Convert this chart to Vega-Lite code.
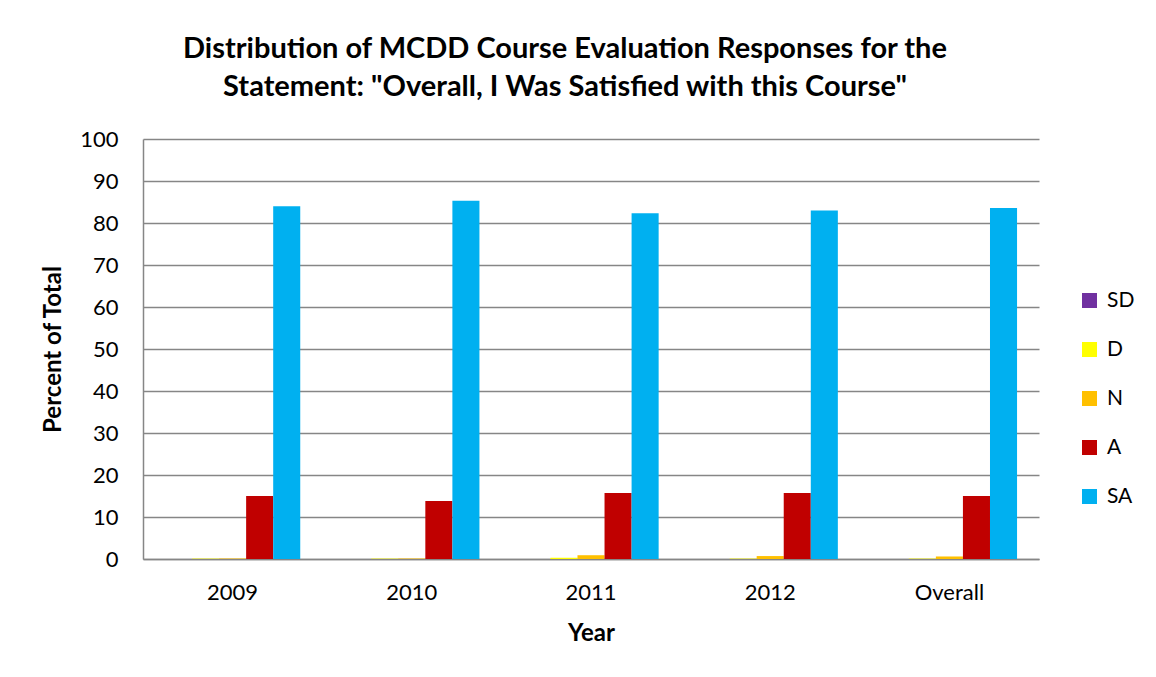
{
  "$schema": "https://vega.github.io/schema/vega-lite/v6.json",
  "autosize": "none",
  "width": 896,
  "height": 420,
  "padding": {"left": 143, "top": 139, "right": 117, "bottom": 118},
  "background": "white",
  "title": {
    "text": ["Distribution of MCDD Course Evaluation Responses for the", "Statement: \"Overall, I Was Satisfied with this Course\""],
    "font": "Lato",
    "fontSize": 29,
    "fontWeight": "bold",
    "color": "#000000",
    "lineHeight": 38,
    "anchor": "middle",
    "dx": -26,
    "offset": 26
  },
  "data": {
    "values": [
      {"year": "2009", "resp": "SD", "pct": 0},
      {"year": "2009", "resp": "D", "pct": 0.1},
      {"year": "2009", "resp": "N", "pct": 0.1},
      {"year": "2009", "resp": "A", "pct": 15.0},
      {"year": "2009", "resp": "SA", "pct": 84.0},
      {"year": "2010", "resp": "SD", "pct": 0},
      {"year": "2010", "resp": "D", "pct": 0.1},
      {"year": "2010", "resp": "N", "pct": 0.1},
      {"year": "2010", "resp": "A", "pct": 13.8},
      {"year": "2010", "resp": "SA", "pct": 85.3},
      {"year": "2011", "resp": "SD", "pct": 0},
      {"year": "2011", "resp": "D", "pct": 0.3},
      {"year": "2011", "resp": "N", "pct": 0.9},
      {"year": "2011", "resp": "A", "pct": 15.7},
      {"year": "2011", "resp": "SA", "pct": 82.3},
      {"year": "2012", "resp": "SD", "pct": 0},
      {"year": "2012", "resp": "D", "pct": 0.1},
      {"year": "2012", "resp": "N", "pct": 0.7},
      {"year": "2012", "resp": "A", "pct": 15.7},
      {"year": "2012", "resp": "SA", "pct": 83.0},
      {"year": "Overall", "resp": "SD", "pct": 0},
      {"year": "Overall", "resp": "D", "pct": 0.1},
      {"year": "Overall", "resp": "N", "pct": 0.6},
      {"year": "Overall", "resp": "A", "pct": 15.0},
      {"year": "Overall", "resp": "SA", "pct": 83.6}
    ]
  },
  "mark": {"type": "bar"},
  "encoding": {
    "x": {
      "field": "year",
      "type": "nominal",
      "sort": ["2009", "2010", "2011", "2012", "Overall"],
      "scale": {"paddingInner": 0.245, "paddingOuter": 0.1225},
      "axis": {
        "title": "Year",
        "titleFont": "Lato",
        "titleFontSize": 24,
        "titleFontWeight": "bold",
        "titleColor": "#000000",
        "titlePadding": 18,
        "labelFont": "Lato",
        "labelFontSize": 22,
        "labelColor": "#000000",
        "labelAngle": 0,
        "labelPadding": 23,
        "ticks": false,
        "domainColor": "#868686",
        "domainWidth": 1.5,
        "grid": false
      }
    },
    "xOffset": {
      "field": "resp",
      "type": "nominal",
      "sort": ["SD", "D", "N", "A", "SA"],
      "scale": {"paddingInner": 0, "paddingOuter": 0}
    },
    "y": {
      "field": "pct",
      "type": "quantitative",
      "scale": {"domain": [0, 100], "nice": false},
      "axis": {
        "title": "Percent of Total",
        "titleFont": "Lato",
        "titleFontSize": 24,
        "titleFontWeight": "bold",
        "titleColor": "#000000",
        "titlePadding": 14,
        "values": [0, 10, 20, 30, 40, 50, 60, 70, 80, 90, 100],
        "labelFont": "Lato",
        "labelFontSize": 22,
        "labelColor": "#000000",
        "labelPadding": 25,
        "ticks": false,
        "domainColor": "#868686",
        "domainWidth": 1.5,
        "grid": true,
        "gridColor": "#868686",
        "gridWidth": 1.5
      }
    },
    "color": {
      "field": "resp",
      "type": "nominal",
      "sort": ["SD", "D", "N", "A", "SA"],
      "scale": {
        "domain": ["SD", "D", "N", "A", "SA"],
        "range": ["#7030A0", "#FFFF00", "#FFC000", "#C00000", "#00B0F0"]
      },
      "legend": {
        "title": null,
        "orient": "none",
        "legendX": 936,
        "legendY": 151,
        "symbolType": "square",
        "symbolSize": 225,
        "symbolStrokeWidth": 0,
        "labelFont": "Lato",
        "labelFontSize": 21,
        "labelColor": "#000000",
        "labelOffset": 7,
        "rowPadding": 27
      }
    }
  },
  "config": {
    "view": {"stroke": null}
  }
}
